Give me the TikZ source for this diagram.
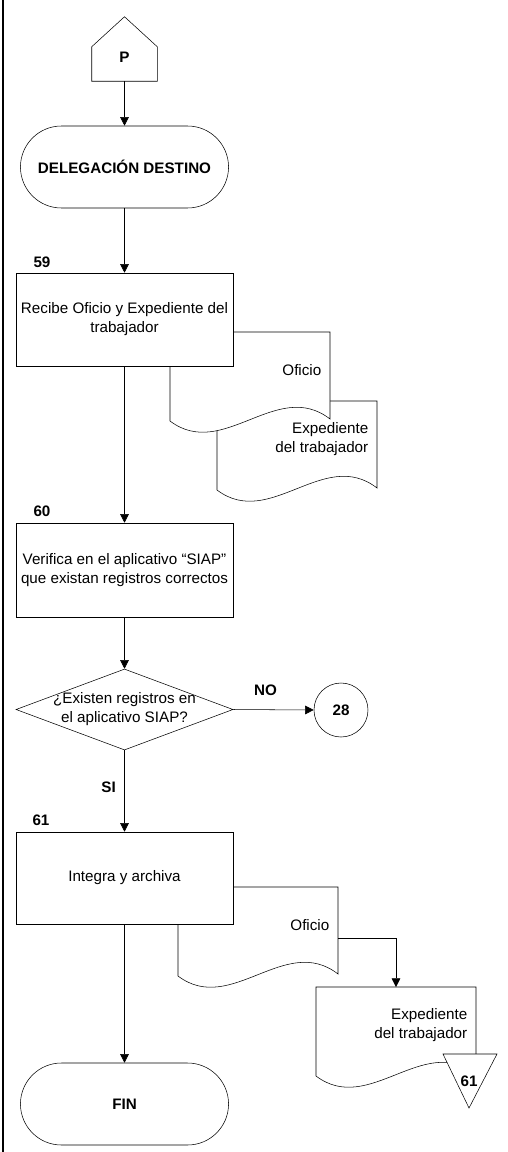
\documentclass[tikz,border=0pt]{standalone}
\usepackage{fontspec}
\setmainfont{Liberation Sans}
\usepackage{tikz}
\usetikzlibrary{arrows.meta,calc,positioning,shapes.geometric,shapes.misc}
\newcommand\txtsize{\fontsize{11.4}{14.25}\selectfont}

\tikzset{
  every node/.style={font=\txtsize},
  lbl/.style={font=\txtsize\bfseries},
  terminal/.style={draw, fill=white, rounded rectangle, minimum width=162.75pt, minimum height=61.5pt, font=\txtsize\bfseries},
  proc/.style={draw, fill=white, rectangle, minimum width=162.75pt, align=center, inner sep=2pt},
  decision/.style={draw, fill=white, diamond, minimum width=162.75pt, minimum height=60.75pt, inner sep=0pt},
  connector/.style={draw, fill=white, circle, minimum size=40.5pt, inner sep=0pt, font=\txtsize\bfseries},
  arr/.style={-{Triangle[length=6.5pt,width=6.5pt]}},
  pics/doc/.style={code={
    \draw[fill=white] (0,0) -- (160,0) -- (160,87) .. controls (107,46) and (53,129) .. (0,89) -- cycle;
    \node[anchor=east, align=right] (-txt) at (156,38) {#1};
    \coordinate (-top) at (80,0);
    \coordinate (-side) at (160,51);
  }}
}

\begin{document}
\begin{tikzpicture}[x=0.75pt, y=-0.75pt]
\useasboundingbox (0,0) rectangle (507,1152);
\draw[line width=1.5pt] (3,0) -- (3,1152);

% conector de pagina
\node[minimum width=48.75pt, minimum height=25.5pt, inner sep=0pt] (p) at (124.5,64) {};
\draw (p.south west) -- (p.north west) -- ([yshift=22.5pt]p.north) -- (p.north east) -- (p.south east) -- cycle;
\node[lbl] (ptxt) at ([yshift=5pt]p.center) {P};

\node[terminal] (t1) at (124.5,167) {DELEGACIÓN DESTINO};

% 59
\pic (ex1) at (217,401) {doc={Expediente\\del trabajador}};
\pic (of1) at (170,332) {doc={Oficio}};
\node[proc, minimum height=69.75pt] (b59) at (124.5,319.5) {Recibe Oficio y Expediente del\\trabajador};
\node[lbl] (n59) at (42,262) {59};

% 60
\node[proc, minimum height=70.5pt] (b60) at (124.5,570) {Verifica en el aplicativo “SIAP”\\que existan registros correctos};
\node[lbl] (n60) at (42,511) {60};

\node[decision] (dec) at (124.5,709.5) {};
\node[align=center] (dectxt) at (dec) {¿Existen registros en\\el aplicativo SIAP?};
\node[connector] (c28) at (341,710) {28};

% 61
\pic (of2) at (178,887) {doc={Oficio}};
\pic (ex2) at (316,987) {doc={Expediente\\del trabajador}};
\draw[fill=white] (443,1054) -- (497,1054) -- (469,1108) -- cycle;
\node[lbl] (c61) at (469,1081) {61};
\node[proc, minimum height=69pt] (b61) at (124.5,878) {Integra y archiva};
\node[lbl] (n61) at (41,820) {61};

\node[terminal] (fin) at (124.5,1104) {FIN};

\draw[arr] (p.south) -- (t1.north);
\draw[arr] (t1.south) -- (b59.north);
\draw[arr] (b59.south) -- (b60.north);
\draw[arr] (b60.south) -- (dec.north);
\draw[arr] (dec.east) -- node[lbl, above=7pt, pos=0.4] (no) {NO} (c28.west);
\draw[arr] (dec.south) -- node[lbl, left=3pt, pos=0.46] (si) {SI} (b61.north);
\draw[arr] (b61.south) -- (fin.north);
\draw[arr] (of2-side) -| (ex2-top);
\end{tikzpicture}
\end{document}
